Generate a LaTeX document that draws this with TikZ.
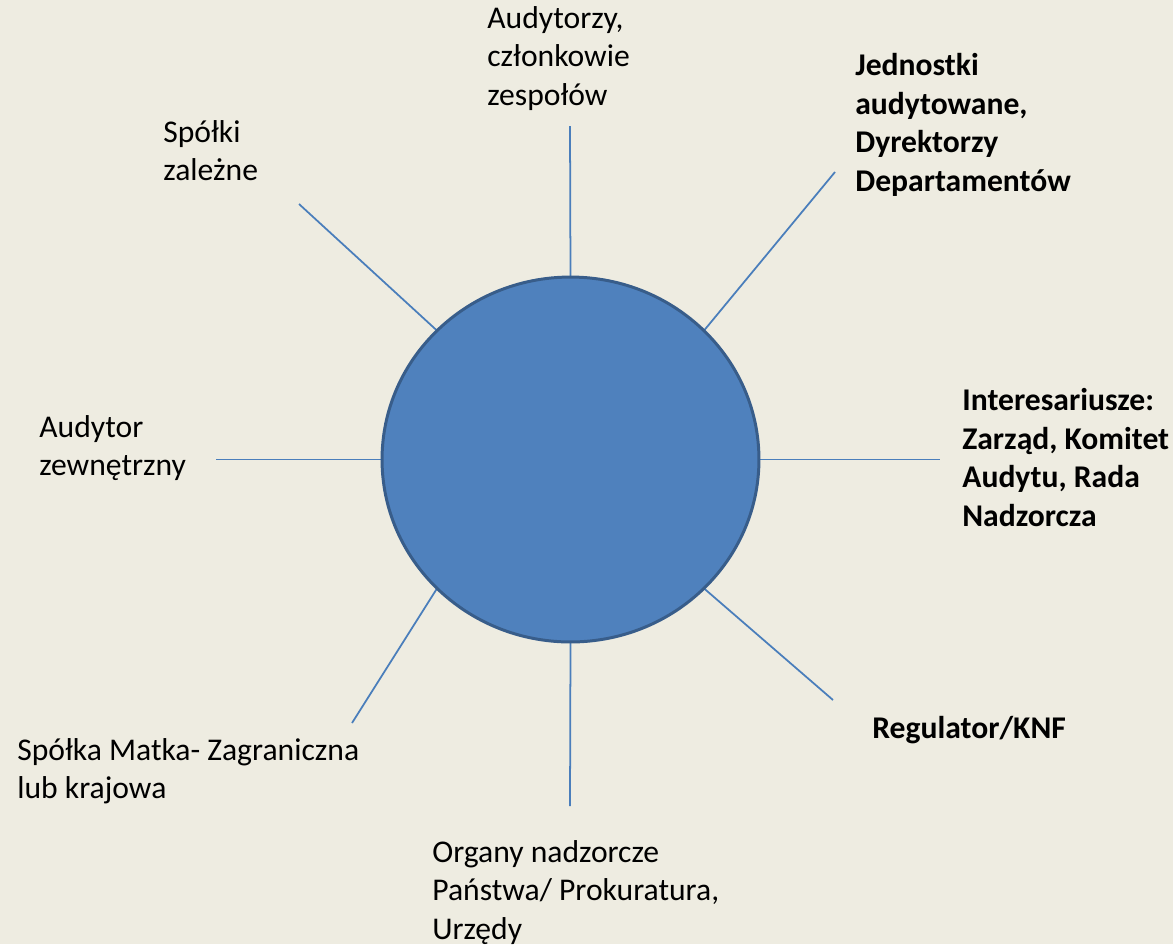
\documentclass[tikz,border=0pt]{standalone}
\usepackage{fontspec}
\setmainfont{Carlito}
\usetikzlibrary{shapes.geometric}
\definecolor{bg}{HTML}{EEECE1}
\definecolor{cfill}{HTML}{4F81BD}
\definecolor{cdraw}{HTML}{385D8A}
\definecolor{lcol}{HTML}{4A7EBB}
\tikzset{
  lbl/.style={anchor=north west, inner sep=0pt, align=left, font=\fontsize{18}{22}\selectfont},
  blbl/.style={lbl, font=\fontsize{18}{22}\selectfont\bfseries},
  spoke/.style={draw=lcol, line width=1pt}
}
\begin{document}
\begin{tikzpicture}[x=0.02cm, y=-0.02cm]
\useasboundingbox (0,0) rectangle (1173,944);
\fill[bg] (0,0) rectangle (1173,944);
\node[ellipse, minimum width=7.54cm, minimum height=7.3cm, inner sep=0pt, outer sep=0pt] (c) at (570.5,459.5) {};
\coordinate (et) at (570,126);
\coordinate (etr) at (835,172);
\coordinate (er) at (940,459.5);
\coordinate (ebr) at (833,700);
\coordinate (eb) at (570,806);
\coordinate (ebl) at (352,723);
\coordinate (el) at (216,459.5);
\coordinate (etl) at (299,204);
\draw[spoke] (c.90) -- (et);
\draw[spoke] (c.44) -- (etr);
\draw[spoke] (c.0) -- (er);
\draw[spoke] (c.-44) -- (ebr);
\draw[spoke] (c.-90) -- (eb);
\draw[spoke] (c.224) -- (ebl);
\draw[spoke] (c.180) -- (el);
\draw[spoke] (c.136) -- (etl);
\node[ellipse, minimum width=7.54cm, minimum height=7.3cm, inner sep=0pt, outer sep=0pt, fill=cfill, draw=cdraw, line width=1.7pt] (circ) at (570.5,459.5) {};
\node[lbl] (ta) at (487,6) {Audytorzy,\\członkowie\\zespołów};
\node[blbl] (tj) at (855,53) {Jednostki\\audytowane,\\Dyrektorzy\\Departamentów};
\node[lbl] (ts) at (163,120) {Spółki\\zależne};
\node[blbl] (ti) at (962,388) {Interesariusze:\\Zarząd, Komitet\\Audytu, Rada\\Nadzorcza};
\node[lbl] (tz) at (39,415) {Audytor\\zewnętrzny};
\node[blbl] (tr) at (872,716) {Regulator/KNF};
\node[lbl] (tm) at (17,738) {Spółka Matka- Zagraniczna\\lub krajowa};
\node[lbl] (to) at (432,840) {Organy nadzorcze\\Państwa/ Prokuratura,\\Urzędy};
\end{tikzpicture}
\end{document}
